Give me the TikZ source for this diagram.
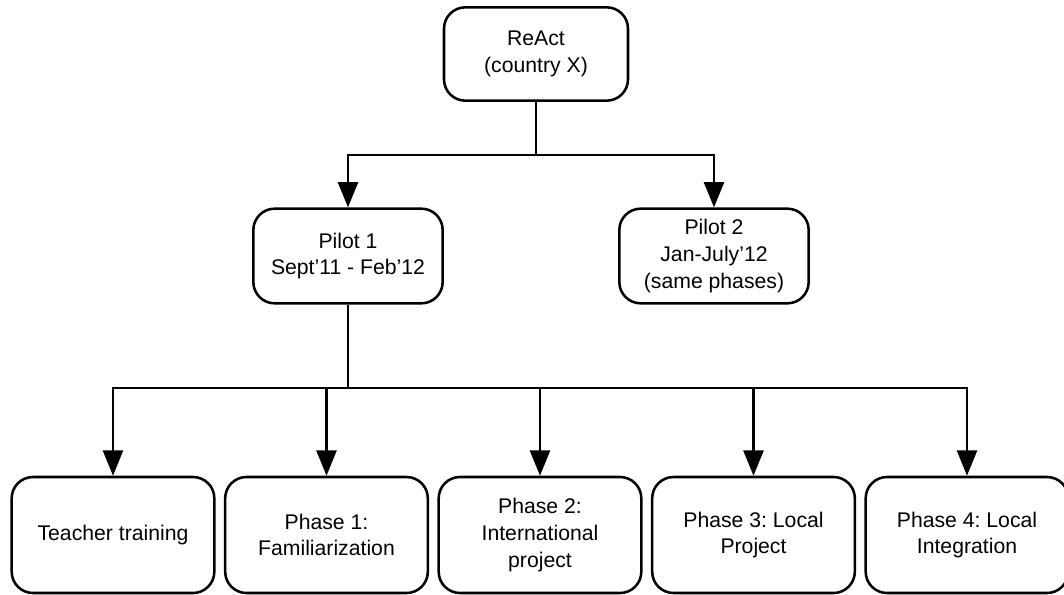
\documentclass[tikz,border=0pt]{standalone}
\usepackage{fontspec}
\setmainfont{Liberation Sans}
\frenchspacing
\usetikzlibrary{arrows.meta}
\begin{document}
\begin{tikzpicture}[x=0.75pt,y=-0.75pt,
  box/.style={draw, line width=1.9pt, rounded corners=16pt, align=center,
    font=\fontsize{15.9}{20}\selectfont, inner sep=2pt},
  topbox/.style={box, minimum width=138pt, minimum height=70pt},
  pilotbox/.style={box, minimum width=142pt, minimum height=71pt},
  phasebox/.style={box, minimum width=152pt, minimum height=87pt},
  link/.style={line width=1.9pt},
  arrow/.style={link, -{Triangle[length=19pt, width=15pt]}}]
\useasboundingbox (0,0) rectangle (1064,595);

% root and pilots
\node[topbox] (react) at (536,54) {ReAct\\(country X)};
\node[pilotbox] (p1) at (348,256) {Pilot 1\\Sept'11 - Feb'12};
\node[pilotbox] (p2) at (714,256) {Pilot 2\\Jan-July'12\\(same phases)};

% phases of pilot 1
\node[phasebox] (tt) at (113,535) {Teacher training};
\node[phasebox] (ph1) at (326.5,535) {Phase 1:\\Familiarization};
\node[phasebox] (ph2) at (540,535) {Phase 2:\\International\\project};
\node[phasebox] (ph3) at (753.5,535) {Phase 3: Local\\Project};
\node[phasebox] (ph4) at (967,535) {Phase 4: Local\\Integration};

% branching points
\coordinate (j1) at (536,155);
\coordinate (j2) at (348,388);

\draw[link] (react.south) -- (j1);
\draw[arrow] (j1) -| (p1.north);
\draw[arrow] (j1) -| (p2.north);

\draw[link] (p1.south) -- (j2);
\foreach \n in {tt,ph1,ph2,ph3,ph4}
  \draw[arrow] (j2) -| (\n.north);
\end{tikzpicture}
\end{document}
